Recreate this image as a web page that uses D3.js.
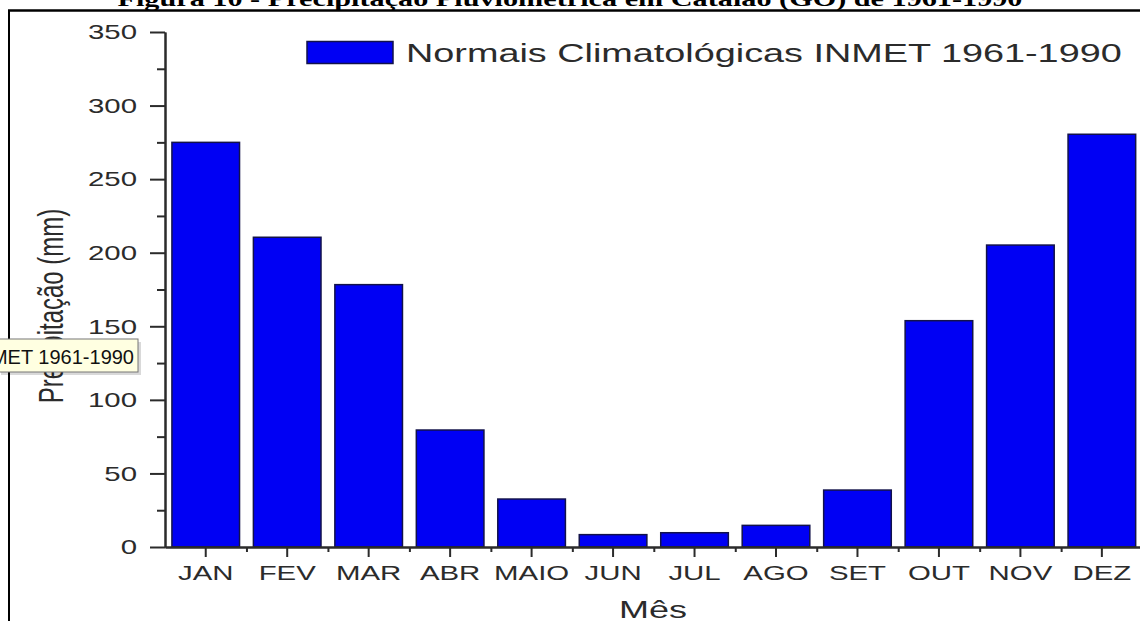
<!DOCTYPE html>
<html>
<head>
<meta charset="utf-8">
<script src="https://cdn.jsdelivr.net/npm/d3@7"></script>
<style>
  body { margin: 0; background: #fff; }
  svg { display: block; }
</style>
</head>
<body>
<script>
// data
const months = ["JAN", "FEV", "MAR", "ABR", "MAIO", "JUN", "JUL", "AGO", "SET", "OUT", "NOV", "DEZ"];
const precipitation = [275, 210.5, 178.3, 79.5, 32.6, 8.4, 9.7, 14.7, 38.7, 153.8, 205.2, 280.5];
const yTicks = [0, 50, 100, 150, 200, 250, 300, 350];
const yMinorTicks = [25, 75, 125, 175, 225, 275, 325];
const legendLabel = "Normais Climatológicas INMET 1961-1990";
const tooltipLabel = "INMET 1961-1990";
const title = "Figura 10 - Precipitação Pluviométrica em Catalão (GO) de 1961-1990";

const width = 1140;
const height = 621;

const svg = d3.select("body")
    .append("svg")
    .attr("width", width)
    .attr("height", height)
    .style("font-family", "'Liberation Sans', Arial, sans-serif");

svg.append("rect").attr("width", width).attr("height", height).attr("fill", "#fff");

// the picture is stretched sideways, so the text is too
function stretch(sel, k) {
    sel.each(function () {
        const t = d3.select(this);
        const x = +t.attr("x") || 0;
        t.attr("x", 0).attr("transform", "translate(" + x + ",0) scale(" + k + ",1)");
    });
}

// title, cut at the top of the page
svg.append("text")
    .attr("x", 570)
    .attr("y", 6)
    .attr("text-anchor", "middle")
    .style("font-family", "'Liberation Serif', 'Times New Roman', serif")
    .style("font-weight", "bold")
    .style("font-size", "21px")
    .attr("textLength", 905)
    .attr("lengthAdjust", "spacingAndGlyphs")
    .text(title);

// frame
svg.append("line").attr("x1", 8).attr("x2", width).attr("y1", 10.5).attr("y2", 10.5)
    .attr("stroke", "#000").attr("stroke-width", 2.5);
svg.append("line").attr("x1", 9).attr("x2", 9).attr("y1", 10).attr("y2", height)
    .attr("stroke", "#000").attr("stroke-width", 2);

// scales
const y = d3.scaleLinear().domain([0, 350]).range([547, 32]);
const x = d3.scaleBand().domain(months).range([165, 1142.6])
    .paddingInner(0.17).paddingOuter(0.085);
const xSlots = d3.scaleLinear().domain([0, months.length]).range([165, 1142.6]);

// bars
svg.append("g")
    .selectAll("rect")
    .data(precipitation)
    .enter().append("rect")
    .attr("x", (d, i) => x(months[i]))
    .attr("width", x.bandwidth())
    .attr("y", d => y(d))
    .attr("height", d => y(0) - y(d))
    .attr("fill", "#0000f4")
    .attr("stroke", "#12124a")
    .attr("stroke-width", 1.5);

// y axis
const axisColor = "#2b2b2b";
const yMinor = svg.append("g").attr("transform", "translate(165,0)")
    .call(d3.axisLeft(y).tickValues(yMinorTicks).tickSize(8).tickSizeOuter(0).tickFormat(""));
const yAxis = svg.append("g").attr("transform", "translate(165,0)")
    .call(d3.axisLeft(y).tickValues(yTicks).tickSize(15).tickSizeOuter(0).tickPadding(13));
yAxis.selectAll("text").style("font-size", "21px").attr("fill", axisColor);
stretch(yAxis.selectAll("text"), 1.4);

// x axis
const xMinor = svg.append("g").attr("transform", "translate(0,547)")
    .call(d3.axisBottom(xSlots).tickValues(d3.range(1, months.length)).tickSize(5).tickSizeOuter(0).tickFormat(""));
const xAxis = svg.append("g").attr("transform", "translate(0,547)")
    .call(d3.axisBottom(x).tickSize(10).tickSizeOuter(0).tickPadding(8));
xAxis.selectAll("text").style("font-size", "21px").attr("fill", axisColor);
stretch(xAxis.selectAll("text"), 1.4);

[yMinor, yAxis, xMinor, xAxis].forEach(g => {
    g.selectAll("path, line").attr("stroke", axisColor).attr("stroke-width", 2);
});

// axis titles
svg.append("text")
    .attr("transform", "translate(63,306) scale(1.45,1) rotate(-90)")
    .attr("text-anchor", "middle")
    .style("font-size", "24px")
    .attr("fill", axisColor)
    .text("Precipitação (mm)");

const xTitle = svg.append("text")
    .attr("y", 618)
    .attr("text-anchor", "middle")
    .style("font-size", "23px")
    .attr("fill", axisColor)
    .text("Mês");
xTitle.attr("transform", "translate(653,0) scale(" + (68 / xTitle.node().getComputedTextLength()) + ",1)");

// legend
svg.append("rect")
    .attr("x", 307).attr("y", 41.5).attr("width", 86).attr("height", 22)
    .attr("fill", "#0000f4").attr("stroke", "#12124a").attr("stroke-width", 1.5);
const legendText = svg.append("text")
    .attr("y", 62.5)
    .style("font-size", "26px")
    .attr("fill", axisColor)
    .text(legendLabel);
legendText.attr("transform", "translate(406,0) scale(" + (716 / legendText.node().getComputedTextLength()) + ",1)");

// tooltip left over on the picture
svg.append("rect")
    .attr("x", 1).attr("y", 342).attr("width", 140).attr("height", 33)
    .attr("fill", "#000").attr("opacity", 0.15);
svg.append("rect")
    .attr("x", -2).attr("y", 339).attr("width", 140).attr("height", 33)
    .attr("fill", "#ffffe1").attr("stroke", "#767676").attr("stroke-width", 1);
svg.append("text")
    .attr("x", 134).attr("y", 363.5)
    .attr("text-anchor", "end")
    .style("font-size", "20px")
    .attr("fill", "#111")
    .text(tooltipLabel);
</script>
</body>
</html>
